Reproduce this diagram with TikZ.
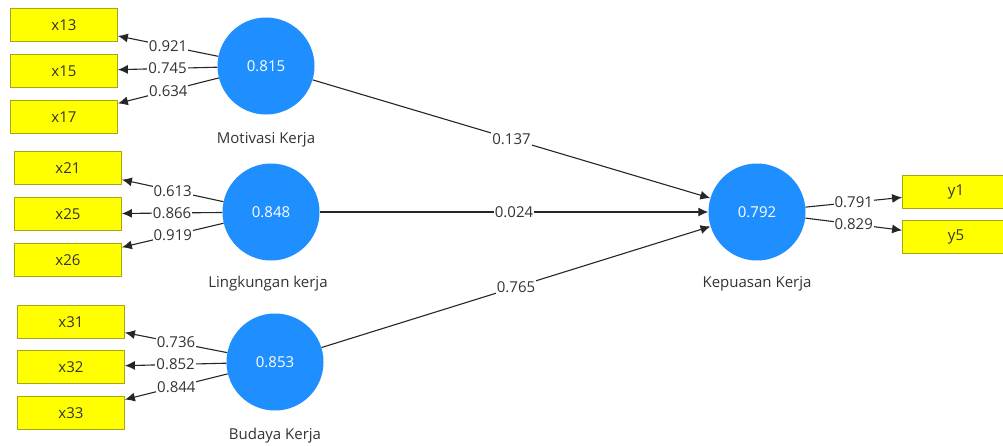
\documentclass[tikz,border=0pt]{standalone}
\usepackage{fontspec}
\setmainfont{Open Sans}
\usetikzlibrary{arrows.meta}
\definecolor{lvblue}{rgb}{0.12,0.56,1.0}
\definecolor{indyel}{rgb}{1,1,0}
\definecolor{indedge}{rgb}{0.65,0.65,0.1}
\definecolor{lgrey}{rgb}{0.2,0.2,0.2}

\tikzset{
  lv/.style={circle, fill=lvblue, text=white, minimum size=97pt, inner sep=0pt},
  ind/.style={rectangle, fill=indyel, draw=indedge, line width=0.8pt, minimum width=107pt, minimum height=33pt, text=lgrey},
  lvname/.style={text=lgrey},
  lbl/.style={fill=white, inner sep=1pt, text=lgrey},
  path/.style={draw=black!85, line width=1.1pt, -{Latex[length=10pt,width=9pt]}}
}

\begin{document}
\begin{tikzpicture}[x=1pt, y=-1pt, font=\fontsize{15}{18}\selectfont]
\useasboundingbox (0,0) rectangle (1003,445);
\fill[white] (0,0) rectangle (1003,445);
% latent variables
\node[lv] (mot) at (266,66) {0.815};
\node[lv] (ling) at (271,212) {0.848};
\node[lv] (bud) at (275,362) {0.853};
\node[lv] (kep) at (757,212) {0.792};
\node[lvname] (motname) at (266,140) {Motivasi Kerja};
\node[lvname] (lingname) at (268,284) {Lingkungan kerja};
\node[lvname] (budname) at (275,436) {Budaya Kerja};
\node[lvname] (kepname) at (757,284) {Kepuasan Kerja};
% indicators
\foreach \n/\y/\v in {x13/25/0.921, x15/71/0.745, x17/117/0.634} {
    \node[ind] (\n) at (64,\y) {\n};
    \draw[path] (mot) -- node[lbl] {\v} (\n);
}
\foreach \n/\y/\v in {x21/168/0.613, x25/214/0.866, x26/260/0.919} {
    \node[ind] (\n) at (68,\y) {\n};
    \draw[path] (ling) -- node[lbl] {\v} (\n);
}
\foreach \n/\y/\v in {x31/322/0.736, x32/367/0.852, x33/413/0.844} {
    \node[ind] (\n) at (71,\y) {\n};
    \draw[path] (bud) -- node[lbl] {\v} (\n);
}
\foreach \n/\y/\v in {y1/192/0.791, y5/237/0.829} {
    \node[ind] (\n) at (956,\y) {\n};
    \draw[path] (kep) -- node[lbl] {\v} (\n);
}
% structural paths
\draw[path] (mot) -- node[lbl] {0.137} (kep);
\draw[path] (ling) -- node[lbl] {0.024} (kep);
\draw[path] (bud) -- node[lbl] {0.765} (kep);
\end{tikzpicture}
\end{document}
